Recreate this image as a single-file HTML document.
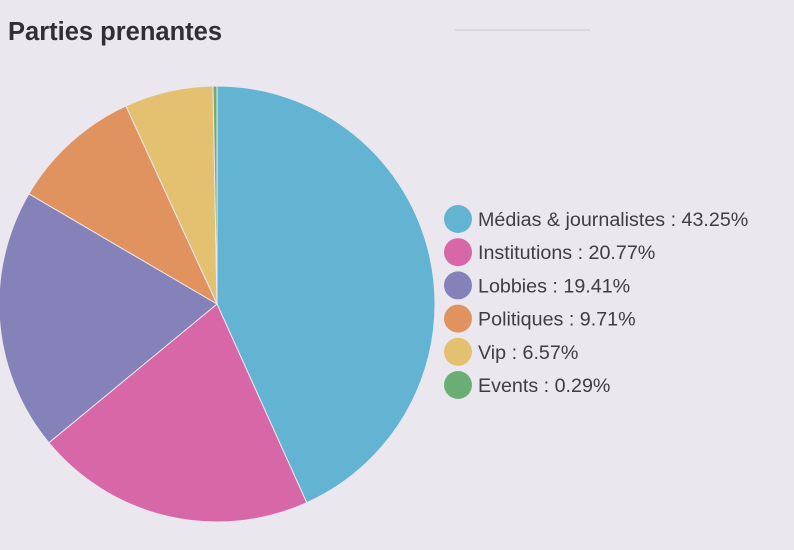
<!DOCTYPE html>
<html><head><meta charset="utf-8"><style>
html,body{margin:0;padding:0;background:#ebe7ee;}
svg{display:block;font-family:"Liberation Sans",sans-serif;}
</style></head><body>
<svg width="794" height="550">
<rect width="794" height="550" fill="#ebe7ee"/>
<text x="8" y="40" font-size="25.5" font-weight="bold" fill="#2f2f35">Parties prenantes</text>
<line x1="455" y1="30" x2="590" y2="30" stroke="#d6d2da" stroke-width="1.5"/>
<g id="pie"></g>
<g id="legend"></g>
</svg>
<script>
const categories=["Médias & journalistes","Institutions","Lobbies","Politiques","Vip","Events"];
const values=[43.25,20.77,19.41,9.71,6.57,0.29];
const colors=["#63b3d3","#d767a6","#8482b8","#e0935e","#e4c170","#6aae74"];
const NS="http://www.w3.org/2000/svg";
const cx=217,cy=304,r=218;
const total=values.reduce((a,b)=>a+b,0);
const pie=document.getElementById('pie');
let a0=0;
values.forEach((v,i)=>{
  const a1=a0+v/total*2*Math.PI;
  const x0=cx+r*Math.sin(a0),y0=cy-r*Math.cos(a0);
  const x1=cx+r*Math.sin(a1),y1=cy-r*Math.cos(a1);
  const large=(a1-a0)>Math.PI?1:0;
  const p=document.createElementNS(NS,'path');
  p.setAttribute('d',`M${cx},${cy}L${x0},${y0}A${r},${r} 0 ${large} 1 ${x1},${y1}Z`);
  p.setAttribute('fill',colors[i]);
  p.setAttribute('stroke','#ebe7ee');
  p.setAttribute('stroke-width','1');
  
  
  pie.appendChild(p);
  a0=a1;
});
const lg=document.getElementById('legend');
categories.forEach((c,i)=>{
  const y=219+i*33.2;
  const g=document.createElementNS(NS,'g');
  
  
  const ci=document.createElementNS(NS,'circle');
  ci.setAttribute('cx',458);ci.setAttribute('cy',y);ci.setAttribute('r',14);
  ci.setAttribute('fill',colors[i]);
  
  
  const t=document.createElementNS(NS,'text');
  t.setAttribute('x',478);t.setAttribute('y',y+7);
  t.setAttribute('font-size','19.7');t.setAttribute('fill','#3e3e42');
  
  
  t.textContent=c+' : '+values[i].toFixed(2)+'%';
  g.appendChild(ci);g.appendChild(t);lg.appendChild(g);
});
</script>
</body></html>
